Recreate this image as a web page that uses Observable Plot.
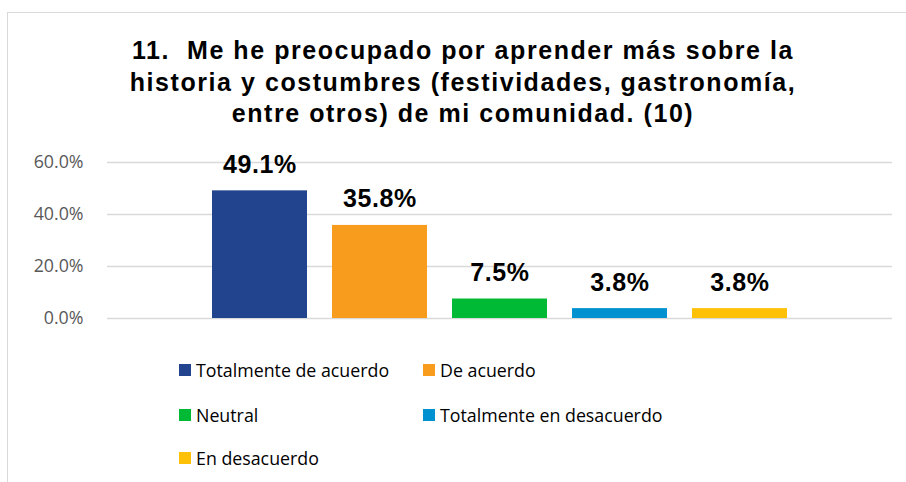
<!DOCTYPE html>
<html>
<head>
<meta charset="utf-8">
<script src="https://cdn.jsdelivr.net/npm/d3@7"></script>
<script src="https://cdn.jsdelivr.net/npm/@observablehq/plot@0.6"></script>
<style>
  html, body { margin: 0; padding: 0; background: #fff; }
  body { width: 906px; height: 482px; overflow: hidden; position: relative; }
  #frame { position: absolute; left: 7px; top: 12px; width: 960px; height: 520px; border: 1px solid #d9d9d9; box-sizing: border-box; }
  #title { position: absolute; left: 0; top: 35px; width: 926px; text-align: center;
           font-family: "Liberation Sans", Arial, sans-serif; font-weight: bold; font-size: 25px; line-height: 31.5px; letter-spacing: 1.55px; color: #000; white-space: pre; }
  #chart { position: absolute; left: 0; top: 0; }
  #chart g[aria-label="text"] text { letter-spacing: 0.6px; }
  .leg { position: absolute; font-family: "Open Sans", "Noto Sans", sans-serif; font-size: 17.8px; color: #000; display: flex; align-items: center; white-space: nowrap; }
  .sw { width: 12px; height: 12px; margin-right: 5px; display: inline-block; }
</style>
</head>
<body>
<div id="frame"></div>
<div id="title"></div>
<div id="chart"></div>
<div id="legend"></div>
<script>
const titleLines = [
  "11.  Me he preocupado por aprender más sobre la",
  "historia y costumbres (festividades, gastronomía,",
  "entre otros) de mi comunidad. (10)"
];
const categories = ["Totalmente de acuerdo", "De acuerdo", "Neutral", "Totalmente en desacuerdo", "En desacuerdo"];
const values = [49.1, 35.8, 7.5, 3.8, 3.8];
const colors = ["#22448E", "#F89C1E", "#00B934", "#0091D0", "#FFC107"];
const yTicks = [0, 20, 40, 60];

document.getElementById("title").textContent = titleLines.join("\n");

const data = categories.map((c, i) => ({category: c, value: values[i]}));

const chart = Plot.plot({
  width: 906,
  height: 330,
  marginTop: 162,
  marginBottom: 12,
  marginLeft: 107,
  marginRight: 14,
  style: {background: "transparent", overflow: "visible"},
  x: {domain: categories, paddingInner: 0.207, paddingOuter: 0.861, axis: null},
  y: {domain: [0, 60], ticks: yTicks, tickFormat: d => d.toFixed(1) + "%", tickSize: 0, tickPadding: 24, label: null},
  color: {domain: categories, range: colors},
  marks: [
    Plot.ruleY(yTicks, {stroke: "#d9d9d9", strokeWidth: 1.4}),
    Plot.barY(data, {x: "category", y: "value", fill: "category"}),
    Plot.text(data, {x: "category", y: "value", text: d => d.value.toFixed(1) + "%", dy: -26,
      fontFamily: "Liberation Sans, Arial, sans-serif", fontWeight: "bold", fontSize: 25, fill: "#000"}),
    Plot.axisY({ticks: yTicks, tickFormat: d => d.toFixed(1) + "%", tickSize: 0, tickPadding: 24, label: null,
      fontFamily: "Open Sans, sans-serif", fontSize: 17.8, color: "#595959"})
  ]
});
document.getElementById("chart").appendChild(chart);

// Legend
const legPos = [[179, 370], [423, 370], [179, 415], [423, 415], [179, 458]];
const legend = document.getElementById("legend");
categories.forEach((c, i) => {
  const el = document.createElement("div");
  el.className = "leg";
  el.style.left = legPos[i][0] + "px";
  el.style.top = (legPos[i][1] - 14) + "px";
  el.style.height = "28px";
  el.innerHTML = `<span class="sw" style="background:${colors[i]}"></span><span>${c}</span>`;
  legend.appendChild(el);
});
</script>
</body>
</html>
